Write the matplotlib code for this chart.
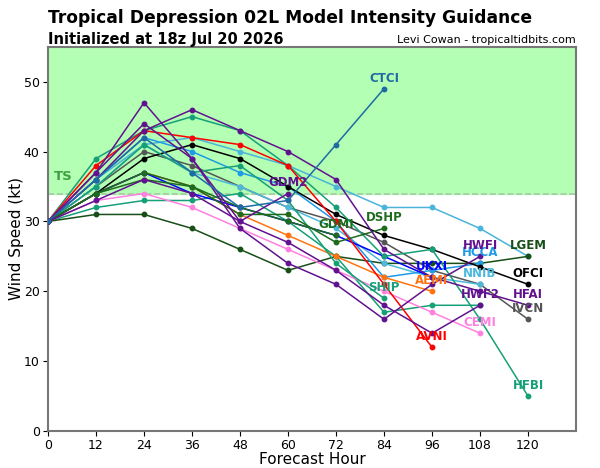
import matplotlib
matplotlib.use("Agg")
import matplotlib.pyplot as plt

# forecast hours and model intensity (kt), one list per model
hours = [0, 12, 24, 36, 48, 60, 72, 84, 96, 108, 120]

ctci = [30, 36, 42, 37, 32, 33, 41, 49]
gdm2 = [30, 37, 44, 39, 30, 34]
dshp = [30, 34, 36, 35, 31, 31, 27, 29]
gdmi = [30, 34, 37, 35, 32, 30, 28]
ship = [30, 35, 41, 37, 38, 33, 24, 19]
avni = [30, 38, 43, 42, 41, 38, 30, 21, 12]
ukxi = [30, 34, 37, 34, 32, 30, 28, 25, 22]
aemi = [30, 34, 37, 35, 31, 28, 25, 22, 20]
hwfi = [30, 37, 47, 39, 29, 24, 21, 16, 21, 25]
hcca = [30, 36, 42, 40, 37, 35, 30, 22, 23, 24]
nnib = [30, 35, 41, 37, 35, 32, 29, 24, 22, 21]
hwf2 = [30, 33, 36, 34, 30, 27, 23, 18, 14, 18]
hmon = [30, 32, 33, 33, 34, 30, 25, 17, 18, 18]
cemi = [30, 33, 34, 32, 29, 26, 23, 20, 17, 14]
lgem = [30, 31, 31, 29, 26, 23, 25, 24, 24, 24, 25]
tabm = [30, 36, 41, 42, 40, 38, 35, 32, 32, 29, 25]
ofci = [30, 34, 39, 41, 39, 35, 31, 28, 26, 23.5, 21]
hfai = [30, 36, 43, 46, 43, 40, 36, 26, 22, 20, 18]
ivcn = [30, 35, 40, 38, 35, 32, 30, 27, 23, 21, 16]
hfbi = [30, 39, 43, 45, 43, 38, 32, 25, 26, 16, 5]

purple = '#62128f'
teal = '#16a077'
dgreen = '#1d6b1d'

# name, values, colour, show label
models = [
    ('HMON', hmon, teal, False),
    ('', tabm, '#4ab4da', False),
    ('LGEM', lgem, '#174f17', True),
    ('CEMI', cemi, '#ff80e0', True),
    ('IVCN', ivcn, '#555555', True),
    ('NNIB', nnib, '#4cb9dc', True),
    ('HCCA', hcca, '#1e9be6', True),
    ('AEMI', aemi, '#ff7410', True),
    ('UKXI', ukxi, '#0000ff', True),
    ('OFCI', ofci, '#000000', True),
    ('SHIP', ship, teal, True),
    ('HFBI', hfbi, teal, True),
    ('DSHP', dshp, dgreen, True),
    ('GDMI', gdmi, dgreen, True),
    ('AVNI', avni, '#ff0000', True),
    ('HWF2', hwf2, purple, True),
    ('HWFI', hwfi, purple, True),
    ('HFAI', hfai, purple, True),
    ('GDM2', gdm2, purple, True),
    ('CTCI', ctci, '#1f6aa5', True),
]

fig = plt.figure(figsize=(6, 4.68), dpi=100)
ax = fig.add_axes([0.08, 0.079, 0.88, 0.821])

ax.axhspan(34, 55, color='#b3ffb3', zorder=0)
ax.axhline(34, color='#a8c8a8', ls='--', lw=1.2, zorder=1)
ax.text(3.8, 36.4, 'TS', color='#3f9f3f', fontsize=9.5, fontweight='bold',
        ha='center', va='center')

for name, vals, col, lab in models:
    x = hours[:len(vals)]
    ax.plot(x, vals, color=col, lw=1.1, marker='o', ms=3.2, zorder=3)
    if lab:
        ax.annotate(name, (x[-1], vals[-1]), xytext=(0, 3), textcoords='offset points',
                    ha='center', va='bottom', color=col, fontsize=8.5,
                    fontweight='bold', zorder=5)

ax.set_xlim(0, 132)
ax.set_ylim(0, 55)
ax.set_xticks(hours)
ax.set_yticks(range(0, 51, 10))
ax.tick_params(labelsize=9, pad=2.5)
ax.set_xlabel('Forecast Hour', fontsize=11, labelpad=0)
ax.set_ylabel('Wind Speed (kt)', fontsize=11, labelpad=0)
for s in ax.spines.values():
    s.set_color('#777777')
    s.set_linewidth(1.5)

fig.text(0.08, 0.961, 'Tropical Depression 02L Model Intensity Guidance',
         fontsize=12.3, fontweight='bold', ha='left', va='center')
fig.text(0.08, 0.915, 'Initialized at 18z Jul 20 2026', fontsize=10.5,
         fontweight='bold', ha='left', va='center')
fig.text(0.96, 0.915, 'Levi Cowan - tropicaltidbits.com', fontsize=8,
         ha='right', va='center')

fig.savefig('out.png', dpi=100)
